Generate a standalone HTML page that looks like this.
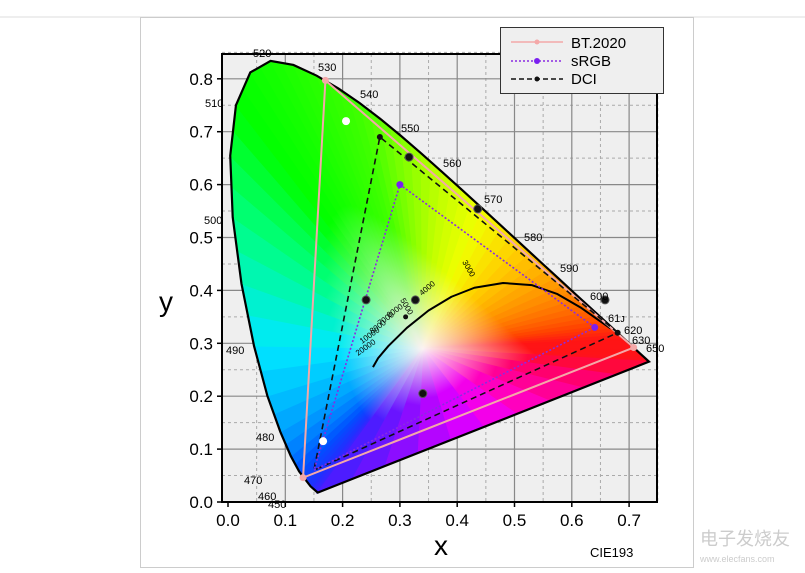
<!DOCTYPE html>
<html><head><meta charset="utf-8"><style>
html,body{margin:0;padding:0;background:#fff;}
svg{display:block;font-family:"Liberation Sans",sans-serif;}
</style></head><body>
<svg id="s" width="805" height="573" viewBox="0 0 805 573" xmlns="http://www.w3.org/2000/svg"></svg>
<script>
const S=document.getElementById('s');
const X=x=>228+x*573, Y=y=>502-y*529;
let h='';
h+='<rect x="0" y="0" width="805" height="573" fill="#fff"/>';
h+='<line x1="0" y1="17" x2="805" y2="17" stroke="#ddd"/>';
h+='<rect x="140.5" y="17.5" width="553" height="550" fill="#fff" stroke="#ccc"/>';
const L=222,R=657,T=54,B=502;
h+=`<rect x="${L}" y="${T}" width="${R-L}" height="${B-T}" fill="#efefef"/>`;
for(let v=0.05;v<0.76;v+=0.1){h+=`<line x1="${X(v)}" y1="${T}" x2="${X(v)}" y2="${B}" stroke="#aaa" stroke-dasharray="3,3"/>`;}
for(let v=0.05;v<0.85;v+=0.1){h+=`<line x1="${L}" y1="${Y(v)}" x2="${R}" y2="${Y(v)}" stroke="#aaa" stroke-dasharray="3,3"/>`;}
for(let i=1;i<=7;i++){h+=`<line x1="${X(i/10)}" y1="${T}" x2="${X(i/10)}" y2="${B}" stroke="#888" stroke-width="1.2"/>`;}
for(let i=1;i<=8;i++){h+=`<line x1="${L}" y1="${Y(i/10)}" x2="${R}" y2="${Y(i/10)}" stroke="#888" stroke-width="1.2"/>`;}
const loc=[[450,.1566,.0177],[460,.1440,.0297],[470,.1241,.0578],[475,.1096,.0868],[480,.0913,.1327],[485,.0687,.2007],[490,.0454,.2950],[495,.0235,.4127],[500,.0082,.5384],[505,.0039,.6548],[510,.0139,.7502],[515,.0389,.8120],[520,.0743,.8338],[525,.1142,.8262],[530,.1547,.8059],[535,.1929,.7816],[540,.2296,.7543],[545,.2658,.7243],[550,.3016,.6923],[555,.3373,.6589],[560,.3731,.6245],[565,.4087,.5896],[570,.4441,.5547],[575,.4788,.5202],[580,.5125,.4866],[585,.5448,.4544],[590,.5752,.4242],[595,.6029,.3965],[600,.6270,.3725],[605,.6482,.3514],[610,.6658,.3340],[620,.6915,.3083],[630,.7079,.2920],[640,.7190,.2809],[650,.7260,.2740],[700,.7347,.2653]];
const cmap=[[450,[64,32,255]],[460,[32,48,255]],[470,[0,80,255]],[480,[0,160,255]],[490,[0,232,255]],[500,[0,255,128]],[505,[0,255,64]],[510,[0,255,0]],[540,[64,255,0]],[550,[128,255,0]],[560,[192,255,0]],[570,[240,255,0]],[580,[255,208,0]],[590,[255,160,0]],[600,[255,112,0]],[610,[255,64,0]],[620,[255,20,20]],[700,[255,16,32]]];
function col(w){for(let i=0;i<cmap.length-1;i++){const a=cmap[i],b=cmap[i+1];if(w>=a[0]&&w<=b[0]){const t=(w-a[0])/(b[0]-a[0]);return a[1].map((c,k)=>Math.round(c+(b[1][k]-c)*t));}}return cmap[cmap.length-1][1];}
let pts=[];
for(let i=0;i<loc.length;i++){const p=loc[i];pts.push({x:p[1],y:p[2],c:col(p[0])});
 if(i<loc.length-1){const q=loc[i+1];const n=Math.max(1,Math.round((q[0]-p[0])/2.5));for(let k=1;k<n;k++){const t=k/n;pts.push({x:p[1]+(q[1]-p[1])*t,y:p[2]+(q[2]-p[2])*t,c:col(p[0]+(q[0]-p[0])*t)});}}}
const pl=[[255,16,48],[255,0,90],[255,0,130],[255,0,170],[255,0,210],[230,0,255],[200,0,255],[160,10,255],[120,16,255],[90,24,255],[64,32,255]];
const a=loc[loc.length-1],b=loc[0];
for(let i=1;i<pl.length-1;i++){const t=i/(pl.length-1);pts.push({x:a[1]+(b[1]-a[1])*t,y:a[2]+(b[2]-a[2])*t,c:pl[i]});}
const W={x:0.34,y:0.29};
let defs='<defs>',tri='';
for(let i=0;i<pts.length;i++){const p=pts[i],q=pts[(i+1)%pts.length];
 const mx=(p.x+q.x)/2,my=(p.y+q.y)/2;const c=p.c.map((v,k)=>Math.round((v+q.c[k])/2));
 const cs=`rgb(${c.join(',')})`;
 defs+=`<linearGradient id="g${i}" gradientUnits="userSpaceOnUse" x1="${X(mx)}" y1="${Y(my)}" x2="${X(W.x)}" y2="${Y(W.y)}"><stop offset="0" stop-color="${cs}"/><stop offset="0.5" stop-color="${cs}"/><stop offset="1" stop-color="#fbf2f2"/></linearGradient>`;
 tri+=`<polygon points="${X(W.x)},${Y(W.y)} ${X(p.x)},${Y(p.y)} ${X(q.x)},${Y(q.y)}" fill="url(#g${i})" stroke="url(#g${i})" stroke-width="1.2"/>`;}
defs+='</defs>';
h+=defs+tri;
h+=`<polygon points="${loc.map(p=>X(p[1])+','+Y(p[2])).join(' ')}" fill="none" stroke="#000" stroke-width="2.2"/>`;
// planckian
const pk=[[.253,.255],[.262,.272],[.28,.295],[.312,.329],[.35,.362],[.39,.388],[.43,.405],[.48,.414],[.53,.41],[.575,.393],[.615,.368],[.645,.345],[.668,.328]];
h+=`<polyline points="${pk.map(p=>X(p[0])+','+Y(p[1])).join(' ')}" fill="none" stroke="#000" stroke-width="2" stroke-linejoin="round"/>`;
[['3000',462,262,60],['4000',422,296,-40],['5000',400,300,60],['6000',389,318,-35],['7000',380,326,-35],['8000',372,334,-35],['10000',362,344,-35],['20000',358,356,-35]].forEach(t=>{h+=`<text x="${t[1]}" y="${t[2]}" font-size="8" transform="rotate(${t[3]} ${t[1]} ${t[2]})">${t[0]}</text>`;});
const tr=(p,st,w,da)=>`<polygon points="${p.map(v=>X(v[0])+','+Y(v[1])).join(' ')}" fill="none" stroke="${st}" stroke-width="${w}" ${da?'stroke-dasharray="'+da+'"':''}/>`;
h+=tr([[.708,.292],[.170,.797],[.131,.046]],'#f4a8a8',2,'');
h+=tr([[.68,.32],[.265,.69],[.15,.06]],'#111',1.6,'6,4');
h+=tr([[.64,.33],[.30,.60],[.15,.06]],'#8a2be2',1.6,'2,2');
[[.708,.292],[.170,.797],[.131,.046]].forEach(p=>h+=`<circle cx="${X(p[0])}" cy="${Y(p[1])}" r="3.5" fill="#f4a8a8"/>`);
[[.68,.32],[.265,.69]].forEach(p=>h+=`<circle cx="${X(p[0])}" cy="${Y(p[1])}" r="3" fill="#111"/>`);
[[.64,.33],[.30,.60]].forEach(p=>h+=`<circle cx="${X(p[0])}" cy="${Y(p[1])}" r="3.5" fill="#7a1ff0"/>`);
[[.316,.652],[.436,.554],[.658,.382],[.241,.382],[.327,.382],[.34,.205]].forEach(p=>h+=`<circle cx="${X(p[0])}" cy="${Y(p[1])}" r="4" fill="#111" stroke="#555"/>`);
[[.31,.35]].forEach(p=>h+=`<circle cx="${X(p[0])}" cy="${Y(p[1])}" r="2.5" fill="#111"/>`);
[[.206,.72],[.166,.115]].forEach(p=>h+=`<circle cx="${X(p[0])}" cy="${Y(p[1])}" r="4" fill="#fff"/>`);
[['520',253,57],['530',318,71],['540',360,98],['550',401,132],['560',443,167],['570',484,203],['580',524,241],['590',560,272],['600',590,300],['61ᴊ',608,322],['620',624,334],['630',632,344],['650',646,352],['510',205,107],['500',204,224],['490',226,354],['480',256,441],['470',244,484],['460',258,500],['450',268,508]].forEach(t=>h+=`<text x="${t[1]}" y="${t[2]}" font-size="11">${t[0]}</text>`);
h+=`<rect x="${L}" y="${T}" width="${R-L}" height="${B-T}" fill="none" stroke="#000" stroke-width="2"/>`;
for(let i=0;i<=7;i++){h+=`<line x1="${X(i/10)}" y1="${B}" x2="${X(i/10)}" y2="${B+5}" stroke="#000" stroke-width="1.5"/><text x="${X(i/10)}" y="${B+24}" font-size="17" text-anchor="middle">${(i/10).toFixed(1)}</text>`;}
for(let i=0;i<=8;i++){h+=`<line x1="${L-5}" y1="${Y(i/10)}" x2="${L}" y2="${Y(i/10)}" stroke="#000" stroke-width="1.5"/><text x="${L-9}" y="${Y(i/10)+6}" font-size="17" text-anchor="end">${(i/10).toFixed(1)}</text>`;}
h+=`<text x="441" y="555" font-size="28" text-anchor="middle">x</text><text x="166" y="311" font-size="28" text-anchor="middle">y</text>`;
h+=`<text x="590" y="557" font-size="13">CIE193</text>`;
h+=`<rect x="500.5" y="27.5" width="163" height="66" fill="#efefef" stroke="#333"/>`;
h+=`<line x1="511" y1="42" x2="563" y2="42" stroke="#f4a8a8" stroke-width="1.5"/><circle cx="537" cy="42" r="2.5" fill="#f4a8a8"/><text x="571" y="48" font-size="15">BT.2020</text>`;
h+=`<line x1="511" y1="61" x2="563" y2="61" stroke="#8a2be2" stroke-width="1.5" stroke-dasharray="2,2"/><circle cx="537" cy="61" r="3" fill="#7a1ff0"/><text x="571" y="66" font-size="15">sRGB</text>`;
h+=`<line x1="511" y1="79" x2="563" y2="79" stroke="#111" stroke-width="1.5" stroke-dasharray="5,3"/><circle cx="537" cy="79" r="2.5" fill="#111"/><text x="571" y="84" font-size="15">DCI</text>`;
h+=`<text x="700" y="545" font-size="18" fill="#ccc">电子发烧友</text><text x="700" y="562" font-size="9" fill="#ccc">www.elecfans.com</text>`;
S.innerHTML=h;
</script>
</body></html>
